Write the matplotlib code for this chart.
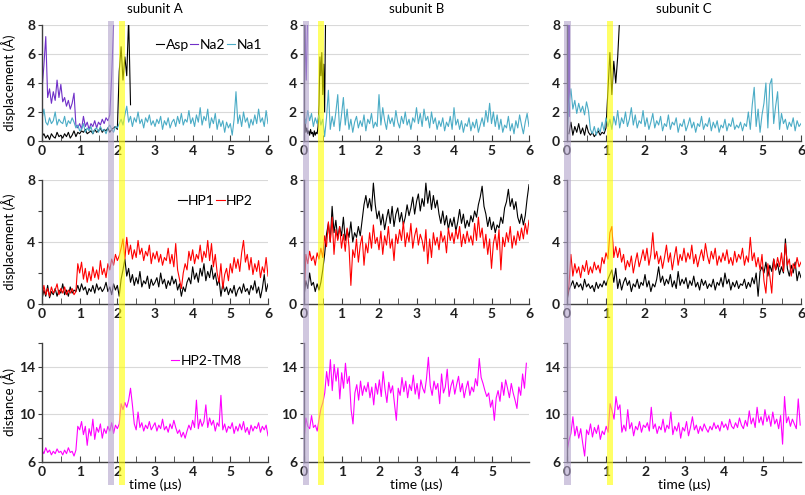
import numpy as np
import matplotlib
matplotlib.use('Agg')
import matplotlib.pyplot as plt
import matplotlib.transforms as mtransforms
from matplotlib.patches import Rectangle
from matplotlib.ticker import MultipleLocator

plt.rcParams['font.family'] = ['Lato', 'DejaVu Sans']

STEP = 0.05  # µs between samples

# ---- top row: Asp / Na2 / Na1 displacement ----
asp_a = [0.3, 0.5, 0.2, 0.4, 0.1, 0.5, 0.3, 0.2, 0.6, 0.3, 0.4, 0.2, 0.5, 0.3, 0.6, 0.2, 0.4, 0.7, 0.3,
         0.6, 0.5, 0.7, 0.6, 0.8, 0.5, 0.6, 0.7, 0.5, 0.8, 0.6, 0.7, 0.9, 0.6, 0.8, 0.7, 0.9, 0.6, 0.8, 0.9, 1.0, 0.8,
         4.8, 6.5, 4.2, 5.8, 4.5, 8.5, 2.5]
na2_a = [3.5, 5.2, 7.2, 3.0, 3.6, 2.6, 3.4, 2.8, 4.2, 3.0, 3.9, 2.7, 3.0, 2.4, 2.8, 2.2, 2.6, 3.3, 1.1, 0.9,
         1.2, 0.8, 1.7, 1.0, 1.3, 0.8, 1.2, 1.0, 1.4, 0.9, 1.3, 1.1, 1.5, 1.2, 1.6, 1.4, 1.8, 4.5, 8.0, 9.0]
na1_a = [1.5, 2.2, 1.3, 1.1, 1.6, 1.2, 1.4, 2.0, 1.1, 1.5, 1.3, 1.2, 1.7, 1.0, 1.4, 1.2, 1.6, 1.3,
         0.9, 1.1, 0.7, 0.8, 1.2, 0.6, 0.9, 0.7, 1.0, 0.5, 0.8, 0.9, 0.6, 1.0, 0.7, 0.8, 0.5, 0.9, 1.1, 0.8, 0.6, 1.0, 0.9,
         1.2, 1.5, 1.1, 1.8, 2.4, 1.3, 1.7, 1.0, 1.6, 1.3, 2.0, 1.2, 1.5, 0.9, 1.6, 1.3, 1.8, 1.1, 1.4, 1.0,
         1.5, 1.2, 1.7, 0.8, 1.4, 1.1, 1.6, 0.9, 1.3, 1.5, 1.0, 1.7, 1.2, 1.9, 1.1, 1.5, 1.3, 2.1, 1.2, 1.6,
         1.0, 1.8, 1.3, 2.3, 1.1, 1.7, 1.4, 2.2, 0.9, 1.6, 1.2, 1.9, 0.8, 1.5, 1.0, 1.4, 0.6, 1.3, 0.9, 1.2,
         0.4, 1.5, 3.4, 1.2, 1.8, 1.0, 2.0, 1.3, 1.6, 0.9, 1.5, 1.1, 1.8, 1.2, 2.2, 1.3, 1.6, 1.0, 2.1, 1.2]

asp_b = [0.8, 1.5, 0.6, 0.9, 0.5, 0.7, 0.4, 0.8, 0.5, 0.6, 0.3, 0.7, 0.4, 0.6,
         0.5, 1.0, 2.5, 5.8, 4.5, 6.1, 3.2, 5.3, 2.0, 8.5]          # every 0.025 µs
na2_b = [0.5, 8.5, 6.0, 4.2, 6.5, 9.0]                               # every 0.02 µs
na1_b = [1.8, 1.2, 2.1, 1.4, 1.9, 1.0, 1.6, 1.2, 1.8, 1.1, 1.5, 0.3, 1.6, 3.5, 0.8, 1.7, 1.0, 2.0, 3.2, 0.7,
         1.8, 3.0, 1.1, 2.2, 0.8, 1.5, 0.6, 1.3, 1.7, 0.9, 1.4, 1.0, 1.8, 0.7, 1.5, 1.2, 1.9, 0.9, 1.3, 1.0,
         3.2, 1.1, 2.3, 1.4, 0.8, 1.8, 1.2, 1.6, 1.0, 2.1, 1.3, 0.9, 1.7, 1.2, 2.0, 1.1, 1.5, 0.8, 1.6, 1.3,
         2.3, 1.2, 1.9, 1.0, 2.2, 1.4, 1.7, 0.9, 2.0, 1.2, 1.6, 0.8, 1.4, 1.0, 1.6, 0.7, 1.3, 1.0, 1.7, 0.8,
         2.3, 1.1, 1.5, 0.8, 1.4, 0.6, 1.2, 1.0, 1.6, 0.7, 1.3, 0.9, 1.5, 0.6, 1.1, 1.6, 1.0, 2.1, 1.3, 2.6,
         1.2, 2.0, 1.0, 1.8, 0.8, 1.5, 0.6, 1.1, 0.9, 1.7, 0.7, 1.2, 0.5, 1.4, 0.9, 1.8, 1.1, 0.5, 1.3, 1.9, 1.0]

asp_c = [0.5, 1.3, 0.4, 1.0, 0.6, 1.2, 0.5, 0.9, 0.4, 1.1, 0.6,
         0.4, 0.6, 0.3, 0.5, 0.7, 0.4, 0.6, 0.5, 0.9,
         3.5, 6.1, 3.2, 5.5, 4.0, 5.8, 8.5]                           # from 0.05 µs
na2_c = [0.3, 8.5, 1.8, 8.5, 2.0, 8.5, 1.7]                          # every 0.01 µs
na1_c = [0.4, 2.5, 3.6, 2.2, 2.8, 1.9, 2.6, 2.0, 2.4, 1.8, 2.7, 2.1, 0.8, 0.5, 1.0, 0.4, 0.9, 0.6, 1.3, 0.7,
         1.6, 1.0, 1.5, 0.8, 1.7, 1.1, 2.1, 0.9, 1.6, 1.2, 2.0, 1.0, 1.5, 2.3, 1.1, 1.8, 0.9, 1.4, 1.2, 2.1,
         1.0, 1.6, 0.8, 1.3, 1.9, 0.9, 1.4, 1.1, 1.7, 0.7, 1.2, 1.0, 1.8, 0.8, 1.3, 1.1, 1.6, 0.6, 1.2, 1.0,
         1.5, 0.7, 1.1, 1.6, 0.9, 1.3, 0.6, 1.2, 1.0, 1.7, 0.8, 1.2, 1.0, 1.6, 0.7, 1.3, 0.9, 1.4, 0.6, 1.1,
         0.9, 1.5, 0.7, 1.2, 1.0, 1.6, 0.8, 1.1, 0.9, 1.3, 0.7, 1.2, 1.0, 2.0, 0.8, 2.5, 3.7, 1.0, 2.2, 0.6,
         1.8, 2.6, 4.0, 0.9, 3.9, 4.3, 1.2, 2.4, 3.4, 0.8, 1.9, 1.2, 1.5, 0.8, 1.3, 1.0, 1.6, 0.7, 1.4, 1.0, 1.2]

# ---- middle row: HP1 / HP2 displacement ----
hp1_a = [0.3, 0.9, 0.5, 1.2, 0.4, 0.8, 0.6, 1.0, 0.5, 0.9, 0.7, 1.3, 0.6, 0.9, 0.5, 1.1, 0.7, 0.9, 0.8, 1.2,
         0.8, 1.3, 0.9, 1.1, 0.6, 1.0, 0.8, 1.2, 0.7, 1.3, 0.9, 1.1, 0.8, 1.0, 1.4, 0.8, 1.1, 0.6, 1.3, 0.9,
         1.2, 0.5, 1.6, 2.2, 2.9, 1.8, 2.3, 1.4, 1.9, 1.2, 1.7, 1.3, 2.1, 1.1, 1.5, 1.3, 1.8, 1.0, 1.6, 1.2,
         1.4, 1.7, 1.1, 2.0, 1.3, 1.6, 1.0, 1.5, 1.2, 1.8, 1.3, 1.6, 0.9, 1.3, 0.5, 1.1, 0.8, 1.4, 1.7, 1.3,
         2.4, 1.6, 2.0, 1.4, 2.3, 1.8, 2.6, 1.5, 2.1, 1.7, 2.5, 1.6, 2.0, 1.2, 1.6, 0.5, 1.3, 0.8, 1.1, 0.6,
         1.0, 0.7, 1.2, 0.5, 0.9, 1.1, 0.7, 1.3, 0.8, 1.0, 0.6, 1.2, 0.9, 1.5, 0.7, 1.1, 0.4, 1.0, 1.9, 0.8, 1.3]
hp2_a = [0.4, 1.2, 0.6, 1.0, 0.5, 1.1, 0.7, 0.9, 1.3, 0.6, 1.0, 0.7, 1.1, 0.6, 0.9, 0.7, 1.0, 0.6, 0.8, 2.6,
         2.0, 2.7, 1.6, 2.3, 1.4, 2.1, 1.5, 2.4, 1.7, 2.2, 1.6, 2.8, 1.9, 2.3, 1.7, 2.6, 2.2, 2.9, 2.5, 3.2,
         2.8, 3.1, 3.6, 4.2, 2.9, 4.3, 3.2, 3.8, 2.9, 3.5, 3.0, 4.1, 3.2, 3.6, 2.8, 3.4, 3.1, 3.8, 2.6, 3.3,
         2.9, 3.4, 2.7, 3.2, 2.5, 3.0, 2.8, 3.6, 2.6, 3.2, 2.4, 3.9, 2.2, 1.6, 1.0, 2.0, 2.6, 2.2, 3.4, 2.8,
         3.5, 2.6, 3.2, 2.9, 3.8, 2.7, 3.4, 3.0, 4.1, 2.8, 3.9, 2.4, 3.2, 2.0, 1.4, 2.6, 1.0, 1.9, 2.3, 1.5,
         2.6, 2.0, 3.0, 2.3, 2.9, 2.1, 3.3, 4.1, 2.7, 3.2, 2.2, 3.0, 1.9, 2.6, 2.1, 2.8, 1.7, 2.4, 2.0, 3.0, 1.8]

hp1_b = [0.5, 1.5, 1.0, 2.0, 1.2, 1.4, 0.8, 1.3, 0.9, 1.4, 2.2, 3.2, 4.5, 5.2, 4.0, 6.3, 4.6, 5.4, 4.2, 5.0,
         4.4, 5.6, 4.1, 4.8, 4.3, 5.3, 4.0, 4.6, 4.3, 5.0, 4.4, 5.4, 6.4, 7.0, 6.2, 6.8, 6.0, 7.8, 6.4, 5.5,
         6.0, 5.1, 5.8, 4.8, 5.5, 6.1, 5.2, 6.3, 5.0, 5.8, 6.2, 5.3, 5.9, 5.1, 5.6, 6.4, 5.7, 6.2, 6.9, 5.8,
         6.6, 7.1, 6.0, 6.8, 6.3, 7.8, 6.5, 7.3, 6.1, 7.0, 6.2, 6.7, 5.8, 5.2, 6.0, 5.1, 5.7, 4.8, 5.5, 5.0,
         5.6, 4.7, 5.3, 6.1, 5.2, 5.8, 4.9, 5.4, 5.0, 5.7, 5.3, 6.0, 5.6, 6.4, 6.9, 7.6, 6.3, 5.8, 5.0, 5.6,
         4.8, 5.3, 4.6, 5.1, 4.9, 5.6, 5.2, 6.2, 6.6, 7.4, 6.3, 6.8, 6.1, 6.6, 5.6, 5.2, 5.8, 5.1, 5.7, 6.8, 7.7]
hp2_b = [0.2, 3.2, 2.6, 3.4, 2.8, 3.1, 2.5, 3.3, 2.9, 3.6, 3.0, 4.4, 3.7, 5.3, 4.0, 5.6, 3.2, 4.8, 4.1, 5.0,
         3.6, 4.5, 3.4, 4.9, 3.7, 1.2, 3.5, 3.0, 4.2, 2.7, 3.8, 4.4, 2.5, 3.9, 3.3, 4.6, 3.6, 5.1, 3.9, 4.3,
         3.5, 4.7, 3.2, 4.4, 3.8, 5.0, 3.6, 4.2, 2.8, 4.5, 3.9, 4.8, 4.1, 5.3, 3.7, 4.6, 4.0, 5.2, 3.6, 4.4,
         4.9, 3.8, 4.5, 4.1, 3.4, 4.8, 2.6, 4.2, 3.0, 4.6, 3.8, 4.3, 3.5, 4.7, 4.0, 4.4, 3.3, 4.9, 4.1, 4.6,
         3.9, 4.8, 4.2, 5.0, 3.7, 4.5, 3.9, 4.7, 4.0, 4.4, 3.8, 5.2, 4.1, 5.6, 4.3, 4.9, 3.6, 4.5, 3.2, 4.2,
         2.3, 3.9, 4.5, 3.5, 4.8, 2.2, 4.3, 3.7, 4.6, 4.0, 5.0, 3.6, 4.4, 3.8, 4.7, 4.1, 4.9, 4.2, 5.2, 4.5, 5.4]

hp1_c = [0.2, 0.9, 1.2, 1.5, 1.0, 1.4, 1.1, 1.3, 0.9, 1.6, 1.1, 1.3, 1.0, 1.2, 0.8, 1.4, 1.0, 1.3, 1.1, 1.5,
         1.2, 1.6, 1.9, 2.2, 1.4, 2.3, 1.0, 1.6, 0.9, 1.4, 1.7, 1.2, 1.5, 0.8, 1.3, 1.1, 1.6, 1.0, 1.4, 1.2,
         1.9, 1.1, 1.5, 0.8, 1.3, 1.1, 1.6, 2.4, 1.4, 1.8, 1.2, 1.6, 1.3, 1.9, 1.1, 1.5, 1.0, 2.1, 1.2, 1.6,
         1.3, 1.7, 1.0, 1.5, 1.2, 1.8, 1.1, 1.4, 0.9, 1.6, 1.2, 1.5, 1.0, 1.3, 1.1, 1.6, 0.9, 1.4, 1.2, 1.7,
         1.1, 2.0, 1.3, 1.6, 0.9, 1.4, 1.1, 1.5, 1.0, 1.3, 1.2, 1.6, 1.0, 1.4, 1.1, 1.7, 1.3, 2.0, 0.5, 2.1,
         2.4, 2.0, 2.7, 1.8, 2.5, 2.1, 2.9, 2.2, 2.6, 1.9, 2.4, 2.0, 4.2, 2.3, 1.8, 2.5, 2.0, 2.7, 1.5, 2.1, 1.7]
hp2_c = [0.3, 1.2, 3.2, 1.8, 2.6, 2.0, 2.4, 1.7, 2.5, 2.1, 2.8, 1.9, 2.4, 2.0, 2.7, 2.2, 2.5, 2.0, 3.0, 2.6,
         3.3, 2.9, 4.6, 5.0, 3.0, 3.7, 3.0, 3.6, 2.7, 3.2, 2.2, 2.8, 2.4, 3.1, 2.0, 2.7, 3.3, 2.4, 2.9, 3.5,
         2.8, 3.6, 2.5, 3.2, 4.6, 2.9, 3.4, 2.6, 3.1, 2.3, 3.0, 3.8, 2.7, 3.3, 2.2, 3.0, 3.7, 2.5, 3.2, 2.8,
         3.6, 2.7, 3.3, 2.9, 3.8, 2.6, 3.2, 2.4, 3.0, 3.5, 2.8, 3.9, 3.1, 2.6, 3.4, 2.9, 3.6, 2.5, 3.1, 2.7,
         3.3, 2.8, 3.5, 2.6, 3.0, 2.5, 3.4, 2.7, 3.2, 2.9, 3.6, 2.5, 3.1, 2.7, 4.3, 2.8, 3.3, 2.4, 3.0, 2.2,
         3.2, 1.5, 0.7, 2.6, 1.8, 0.7, 2.9, 2.2, 3.0, 2.4, 3.3, 2.1, 3.9, 2.5, 2.9, 1.8, 2.6, 2.3, 3.0, 2.4, 2.7]

# ---- bottom row: HP2-TM8 distance ----
tm8_a = [7.0, 6.7, 7.2, 6.8, 7.0, 6.6, 6.9, 6.7, 7.1, 6.8, 6.9, 6.6, 7.0, 6.7, 7.2, 6.8, 6.9, 6.5, 7.0, 9.0,
         8.7, 9.4, 8.3, 9.0, 7.4, 8.8, 8.2, 9.6, 7.9, 8.9, 8.5, 9.2, 8.0, 8.8, 8.4, 9.0, 8.6, 9.3, 8.4, 9.1,
         8.8, 9.2, 10.9, 10.4, 11.0, 10.6, 11.2, 12.2, 10.8, 9.2, 8.7, 10.2, 8.9, 9.3, 8.6, 9.1, 8.8, 9.4, 8.7, 9.0,
         9.3, 8.6, 9.1, 8.8, 9.6, 8.7, 9.0, 8.5, 9.2, 8.8, 9.5, 8.9, 8.4, 8.7, 8.1, 8.5, 8.0, 8.6, 9.1, 8.7,
         9.5, 8.9, 11.2, 8.8, 9.6, 9.0, 9.4, 10.8, 8.9, 9.7, 9.1, 9.5, 8.6, 9.3, 9.0, 11.6, 8.7, 9.2, 8.5, 9.0,
         8.8, 9.3, 8.4, 9.0, 8.6, 9.2, 8.7, 9.4, 8.5, 8.9, 8.3, 9.1, 8.6, 9.0, 8.8, 9.3, 8.5, 9.0, 8.7, 9.1, 8.2]
tm8_b = [7.8, 9.7, 9.0, 8.8, 9.9, 8.9, 9.1, 8.6, 9.6, 10.5, 11.0, 11.8, 13.6, 12.4, 14.6, 12.0, 14.2, 12.8, 13.9, 11.3,
         13.5, 12.2, 14.3, 12.6, 13.2, 10.4, 9.2, 11.8, 12.5, 11.2, 12.8, 11.6, 12.4, 11.9, 12.7, 11.4, 12.3, 10.8, 12.6, 11.7,
         12.9, 11.5, 13.6, 12.1, 11.0, 12.7, 11.8, 12.4, 10.9, 9.5, 12.2, 11.6, 13.1, 11.9, 12.8, 11.4, 12.5, 12.0, 13.3, 11.7,
         12.6, 11.3, 12.9, 12.2, 11.8, 13.0, 14.8, 12.4, 11.6, 12.8, 12.1, 12.6, 10.9, 13.4, 11.8, 12.3, 13.8, 11.5, 12.4, 12.9,
         11.7, 12.5, 13.2, 11.9, 12.6, 11.4, 12.2, 12.8, 11.6, 12.3, 11.9, 13.0, 12.4, 14.7, 13.1, 12.6, 12.0, 11.5, 11.8, 10.6,
         11.2, 9.5, 11.4, 12.0, 11.1, 12.7, 11.6, 12.9, 12.2, 11.4, 12.6, 11.8, 11.2, 10.5, 12.3, 11.6, 13.4, 12.2, 14.3]
tm8_c = [6.9, 7.8, 8.4, 9.8, 8.2, 9.0, 8.0, 8.8, 7.6, 6.5, 8.7, 8.3, 9.2, 8.1, 8.9, 8.4, 9.1, 7.9, 8.6, 8.3,
         9.0, 8.5, 10.9, 10.3, 9.6, 11.5, 10.4, 10.8, 8.5, 9.1, 8.6, 10.4, 8.8, 9.3, 8.2, 9.0, 8.7, 9.4, 8.5, 9.1,
         8.9, 9.3, 8.6, 10.6, 8.8, 9.2, 8.4, 9.0, 8.7, 9.6, 8.5, 9.1, 8.8, 10.2, 8.3, 9.0, 8.6, 9.3, 8.0, 8.9,
         8.6, 9.4, 8.2, 8.9, 9.8, 8.7, 9.1, 8.4, 9.0, 8.6, 9.2, 8.8, 8.5, 9.0, 8.7, 9.3, 8.8, 9.1, 8.6, 9.4,
         8.9, 9.2, 8.7, 9.6, 9.0, 8.8, 9.3, 8.9, 9.7, 9.1, 8.8, 9.5, 9.0, 10.3, 9.2, 9.7, 8.9, 10.6, 9.3, 9.8,
         9.1, 10.4, 9.4, 9.9, 9.0, 10.2, 9.2, 9.6, 8.8, 9.9, 7.5, 11.5, 9.3, 9.8, 9.0, 9.6, 9.2, 8.8, 11.3, 9.1]

# shaded transition windows (µs) per subunit: purple, yellow
purple_win = [(1.76, 1.92), (-0.03, 0.13), (-0.08, 0.10)]
yellow_win = [(2.05, 2.21), (0.36, 0.52), (1.02, 1.19)]

subunits = ['subunit A', 'subunit B', 'subunit C']

C_ASP, C_NA2, C_NA1 = 'black', '#7030c8', '#4bacc6'
C_HP1, C_HP2, C_TM8 = 'black', '#ff0000', '#ff00ff'


def times(vals, start=0.0, step=STEP):
    return start + step * np.arange(len(vals))


def style(ax, ylim, ymaj, ylab_every, xmax, xlabels):
    ax.set_ylim(*ylim)
    ax.set_xlim(0, xmax)
    for s in ['top', 'right']:
        ax.spines[s].set_visible(False)
    for s in ['left', 'bottom']:
        ax.spines[s].set_color('#404040')
        ax.spines[s].set_linewidth(1.0)
    yt = np.arange(ylim[0], ylim[1] + 0.01, ymaj)
    ax.set_yticks(yt)
    ax.set_yticklabels([f'{v:g}' if (v - ylim[0]) % ylab_every == 0 else '' for v in yt])
    for v in yt:
        if (v - ylim[0]) % ylab_every == 0 and v != ylim[0]:
            ax.axhline(v, color='#d9d9d9', lw=0.8, zorder=0)
    ax.set_xticks(xlabels)
    ax.xaxis.set_minor_locator(MultipleLocator(0.5))
    ax.tick_params(axis='x', which='both', direction='in', length=4, color='#404040', pad=3)
    ax.tick_params(axis='y', direction='out', length=3, color='#404040', pad=2)
    for lab in ax.get_xticklabels() + ax.get_yticklabels():
        lab.set_fontweight('bold')
        lab.set_fontsize(10)
        lab.set_color('#202020')


fig = plt.figure(figsize=(8.05, 4.95), dpi=100)
W, H = 805.0, 495.0
col_px = [(42, 226), (304, 225), (567, 234)]
row_px = [(25, 141), (180, 304), (343, 462)]

axes = [[None] * 3 for _ in range(3)]
for r, (ytop, ybot) in enumerate(row_px):
    for c, (x0, w) in enumerate(col_px):
        axes[r][c] = fig.add_axes([x0 / W, 1 - ybot / H, w / W, (ybot - ytop) / H])

lw = 0.8
# top row
top = [(asp_a, times(asp_a), na2_a, times(na2_a), na1_a),
       (asp_b, times(asp_b, step=0.025), na2_b, times(na2_b, step=0.02), na1_b),
       (asp_c, times(asp_c, start=0.05), na2_c, times(na2_c, step=0.01), na1_c)]
for c, (asp, t_asp, na2, t_na2, na1) in enumerate(top):
    ax = axes[0][c]
    ax.plot(t_asp, asp, color=C_ASP, lw=lw, label='Asp')
    ax.plot(t_na2, na2, color=C_NA2, lw=lw, label='Na2')
    ax.plot(times(na1), na1, color=C_NA1, lw=lw, label='Na1')
    style(ax, (0, 8), 2, 2, 6, range(0, 7))
    ax.set_title(subunits[c], fontsize=9.5, pad=9)

# middle row
for c, (hp1, hp2) in enumerate([(hp1_a, hp2_a), (hp1_b, hp2_b), (hp1_c, hp2_c)]):
    ax = axes[1][c]
    ax.plot(times(hp1), hp1, color=C_HP1, lw=lw, label='HP1')
    ax.plot(times(hp2), hp2, color=C_HP2, lw=lw, label='HP2')
    style(ax, (0, 8), 2, 4, 6, range(0, 7))

# bottom row
for c, tm8 in enumerate([tm8_a, tm8_b, tm8_c]):
    ax = axes[2][c]
    ax.plot(times(tm8), tm8, color=C_TM8, lw=lw, label='HP2-TM8')
    xmax = 6 if c == 0 else 5.97
    style(ax, (6, 16), 2, 4, xmax, range(0, 7) if c == 0 else range(0, 6))
    ax.set_xlabel('time (μs)', fontsize=10, labelpad=0)

axes[0][0].set_ylabel('displacement (Å)', fontsize=9.5)
axes[1][0].set_ylabel('displacement (Å)', fontsize=9.5)
axes[2][0].set_ylabel('distance (Å)', fontsize=9.5)
for ax in [axes[0][0], axes[1][0], axes[2][0]]:
    ax.yaxis.set_label_coords(-0.115, 0.5)

leg_kw = dict(frameon=False, handlelength=0.6, handletextpad=0.1, columnspacing=0.1,
              fontsize=10, borderaxespad=0.2, loc='upper right')
axes[0][0].legend(ncol=3, bbox_to_anchor=(1.01, 0.95), **leg_kw)
axes[1][0].legend(ncol=2, bbox_to_anchor=(0.97, 0.95), **leg_kw)
axes[2][0].legend(ncol=1, bbox_to_anchor=(0.92, 0.97), **leg_kw)

# vertical bands through all three rows
band_top, band_bot = 1 - 21 / H, 1 - 485 / H
for c in range(3):
    tr = mtransforms.blended_transform_factory(axes[0][c].transData, fig.transFigure)
    for (a, b), col in [(purple_win[c], '#b1a3cb'), (yellow_win[c], '#ffff00')]:
        fig.add_artist(Rectangle((a, band_bot), b - a, band_top - band_bot, transform=tr,
                                 facecolor=col, edgecolor='none', alpha=0.6, zorder=5))

fig.savefig('out.png', dpi=100)
